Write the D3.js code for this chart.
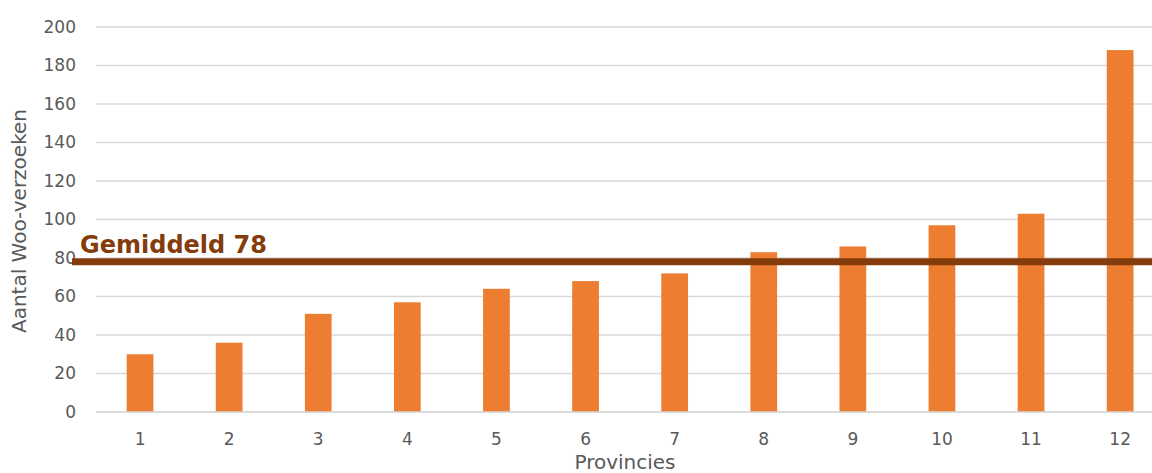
<!DOCTYPE html>
<html>
<head>
<meta charset="utf-8">
<script src="https://cdn.jsdelivr.net/npm/d3@7"></script>
<style>
  html, body { margin: 0; padding: 0; background: #fff; }
  svg { display: block; font-family: "DejaVu Sans", Verdana, sans-serif; }
</style>
</head>
<body>
<svg id="chart" width="1152" height="473"></svg>
<script>
// Woo-verzoeken per provincie
const provinces = ["1", "2", "3", "4", "5", "6", "7", "8", "9", "10", "11", "12"];
const requests = [30, 36, 51, 57, 64, 68, 72, 83, 86, 97, 103, 188];
const yTicks = [0, 20, 40, 60, 80, 100, 120, 140, 160, 180, 200];
const meanValue = 78;
const meanLabel = "Gemiddeld " + meanValue;
const yTitle = "Aantal Woo-verzoeken";
const xTitle = "Provincies";

const svg = d3.select("#chart");

const x = d3.scaleBand()
  .domain(provinces)
  .range([95.5, 1164.7])
  .paddingInner(0.7)
  .paddingOuter(0.35);

const y = d3.scaleLinear()
  .domain([0, 200])
  .range([412, 27]);

const gridColor = "#d9d9d9";
const textColor = "#595959";

// horizontal gridlines
svg.append("g")
  .selectAll("line")
  .data(yTicks)
  .join("line")
  .attr("x1", 96)
  .attr("x2", 1152)
  .attr("y1", d => y(d))
  .attr("y2", d => y(d))
  .attr("stroke", gridColor)
  .attr("stroke-width", 1.5);

// y axis labels
const yAxis = svg.append("g")
  .attr("transform", "translate(76,0)")
  .call(d3.axisLeft(y).tickValues(yTicks).tickSize(0).tickPadding(0));
yAxis.select(".domain").remove();
yAxis.selectAll("text")
  .attr("fill", textColor)
  .style("font-size", "17px")
  .style("font-family", "'DejaVu Sans', Verdana, sans-serif");

// bars
svg.append("g")
  .selectAll("rect")
  .data(provinces.map((p, i) => ({ p, v: requests[i] })))
  .join("rect")
  .attr("x", d => x(d.p))
  .attr("width", x.bandwidth())
  .attr("y", d => y(d.v))
  .attr("height", d => y(0) - y(d.v))
  .attr("fill", "#ed7d31");

// x axis
const xAxis = svg.append("g")
  .attr("transform", `translate(0,${y(0)})`)
  .call(d3.axisBottom(x).tickSize(0).tickPadding(21));
xAxis.select(".domain")
  .attr("stroke", gridColor)
  .attr("stroke-width", 1.5)
  .attr("d", "M96,0H1152");
xAxis.selectAll("text")
  .attr("fill", textColor)
  .style("font-size", "17px")
  .style("font-family", "'DejaVu Sans', Verdana, sans-serif");

// mean line and label
svg.append("line")
  .attr("x1", 72)
  .attr("x2", 1152)
  .attr("y1", y(meanValue))
  .attr("y2", y(meanValue))
  .attr("stroke", "#843c0c")
  .attr("stroke-width", 7);

svg.append("text")
  .attr("x", 80)
  .attr("y", y(meanValue) - 9)
  .attr("fill", "#843c0c")
  .style("font-size", "24px")
  .style("font-weight", "bold")
  .text(meanLabel);

// axis titles
svg.append("text")
  .attr("transform", `translate(26,${(107 + 335) / 2}) rotate(-90)`)
  .attr("text-anchor", "middle")
  .attr("fill", textColor)
  .style("font-size", "20px")
  .text(yTitle);

svg.append("text")
  .attr("x", 625)
  .attr("y", 469)
  .attr("text-anchor", "middle")
  .attr("fill", textColor)
  .style("font-size", "20px")
  .text(xTitle);
</script>
</body>
</html>
